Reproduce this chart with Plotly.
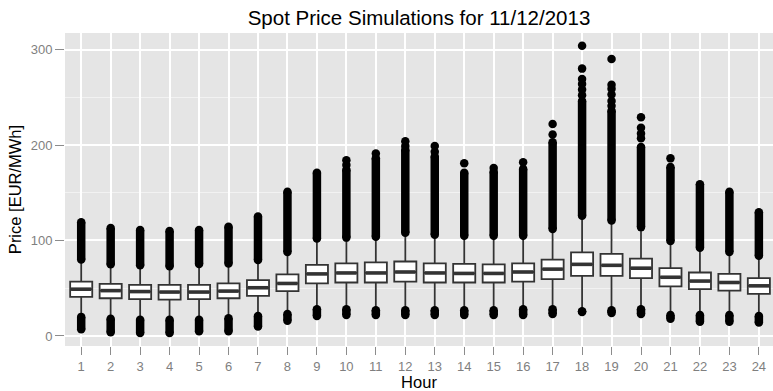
import plotly.graph_objects as go

# ---- data ----
hours = list(range(1, 25))
hour_labels = [str(h) for h in hours]

q1 =     [41, 39.5, 38.5, 38, 38.5, 39.5, 42, 47, 55, 56, 56, 57, 56, 56, 56, 57, 59.5, 63, 63, 60.5, 52, 49, 47.5, 44]
median = [49, 47.5, 46.5, 46, 46, 47, 50.5, 55, 65, 66, 66, 67, 66, 65.5, 65.5, 67, 70, 75, 74, 71, 61.5, 57.5, 56, 52.5]
q3 =     [57, 54.5, 53.5, 53.5, 53.5, 55, 58.5, 64.5, 74.5, 76, 77, 78, 76, 75.5, 75, 76, 80, 87.5, 86, 81, 71, 66.5, 65, 60.5]

# dense band of high outliers (lowest, highest)
hi_out_low =  [80, 75, 74, 73, 75.5, 76, 79.5, 88, 102, 103, 104, 108, 106, 105, 105, 105, 112, 126, 121, 114, 99.5, 92.5, 88, 84]
hi_out_high = [119, 113, 111, 110, 111, 114.5, 125, 151, 171, 174, 186, 195, 188, 171, 172, 175, 203, 246, 236, 198, 177, 159, 151, 129.5]
# isolated extreme points above the dense band
hi_extremes = [[], [], [], [], [], [], [], [], [], [179, 184], [191], [199, 204], [193, 199], [181], [176], [182],
               [211, 222], [252, 258, 264, 269, 280, 304], [241, 246, 253, 259, 263, 290], [207, 212, 218, 229],
               [186], [], [], []]
# band of low outliers (lowest, highest)
lo_out_low =  [7, 4, 3, 3, 5, 5, 10, 16, 21, 22, 22, 22, 22, 22, 22, 22, 23, 25, 24, 23, 18, 15, 15, 14]
lo_out_high = [20, 18, 17, 17, 17, 18.5, 21, 23, 28, 28, 27, 27, 27, 27, 27, 28, 28, 26, 27, 28, 22, 22, 22, 21]

# whiskers end at the last data point inside the fences (just inside the outlier bands)
upper_whisker = [v - 2 for v in hi_out_low]
lower_whisker = [v + 2 for v in lo_out_high]

FONT = "Liberation Sans, Arial, Helvetica, sans-serif"
BOX_W = 0.75
DOT = 8.5

fig = go.Figure()

# outlier bands (dense runs of points drawn as a thick stroke)
bx, by = [], []
for h, a, b in zip(hours, hi_out_low, hi_out_high):
    bx += [h, h, None]; by += [a, b, None]
for h, a, b in zip(hours, lo_out_low, lo_out_high):
    bx += [h, h, None]; by += [a, b, None]
fig.add_trace(go.Scatter(x=bx, y=by, mode="lines", line=dict(color="black", width=DOT),
                         hoverinfo="skip", showlegend=False))

# outlier end points and isolated extremes
px, py = [], []
for h, a, b, c, d, ext in zip(hours, hi_out_low, hi_out_high, lo_out_low, lo_out_high, hi_extremes):
    for v in [a, b, c, d] + ext:
        px.append(h); py.append(v)
fig.add_trace(go.Scatter(x=px, y=py, mode="markers", marker=dict(color="black", size=DOT, line=dict(width=0)),
                         hoverinfo="skip", showlegend=False))

# boxes
fig.add_trace(go.Box(x=hours, q1=q1, median=median, q3=q3,
                     lowerfence=lower_whisker, upperfence=upper_whisker,
                     boxpoints=False, width=BOX_W, whiskerwidth=0,
                     fillcolor="white", line=dict(color="#333333", width=1.8),
                     showlegend=False))

# thicker median lines (ggplot style)
mx, my = [], []
for h, m in zip(hours, median):
    mx += [h - BOX_W / 2 + 0.03, h + BOX_W / 2 - 0.03, None]; my += [m, m, None]
fig.add_trace(go.Scatter(x=mx, y=my, mode="lines", line=dict(color="#333333", width=3.6),
                         hoverinfo="skip", showlegend=False))

fig.update_layout(
    width=773, height=391,
    margin=dict(l=65, r=0, t=33, b=45),
    paper_bgcolor="white", plot_bgcolor="#E5E5E5",
    font=dict(family=FONT, color="black"),
    title=dict(text="Spot Price Simulations for 11/12/2013", x=0.5, xref="paper", xanchor="center",
               y=1 - 18 / 391, yref="container", yanchor="middle",
               font=dict(size=20.5, color="black", family=FONT)),
    showlegend=False,
)
fig.update_xaxes(
    range=[0.45, 24.48], tickmode="array", tickvals=hours, ticktext=hour_labels,
    showgrid=True, gridcolor="white", gridwidth=1.6, zeroline=False, showline=False,
    ticks="outside", ticklen=8, tickwidth=1, tickcolor="#8c8c8c",
    tickfont=dict(size=13, color="#7f7f7f", family=FONT),
    title=dict(text="Hour", font=dict(size=16.5, color="black", family=FONT), standoff=2),
)
fig.update_yaxes(
    range=[-10.5, 317.3], tickvals=[0, 100, 200, 300],
    showgrid=True, gridcolor="white", gridwidth=1.6, zeroline=False, showline=False,
    minor=dict(tickvals=[50, 150, 250], showgrid=True, gridcolor="#F2F2F2", gridwidth=0.8, ticks=""),
    ticks="outside", ticklen=9, tickwidth=1, tickcolor="#8c8c8c",
    tickfont=dict(size=13, color="#7f7f7f", family=FONT),
    title=dict(text="Price [EUR/MWh]", font=dict(size=16.5, color="black", family=FONT), standoff=4),
)

fig.write_html("out.html", config={"displayModeBar": False},
               post_script="document.body.style.margin='0';document.body.style.overflow='hidden';")
